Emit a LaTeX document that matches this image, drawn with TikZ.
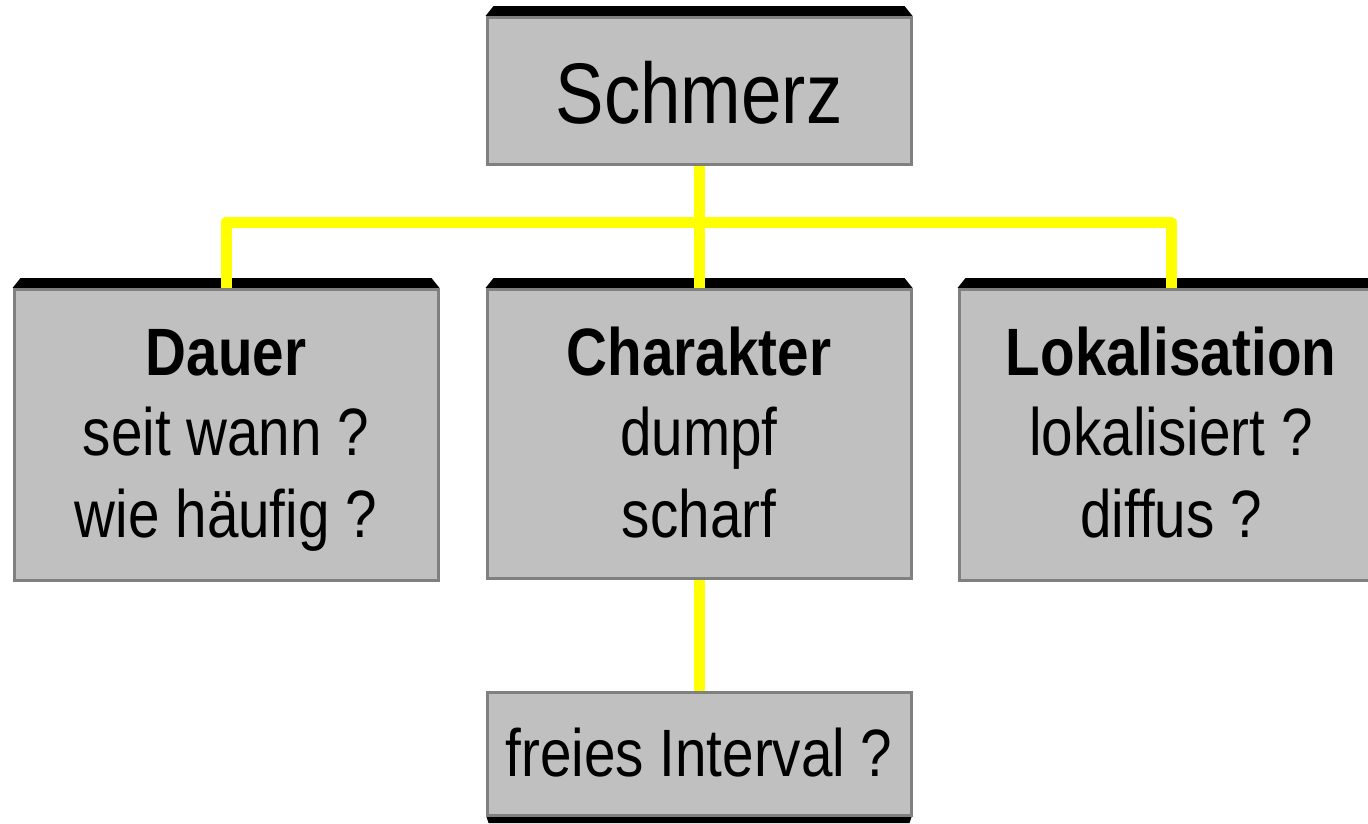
\documentclass[tikz,border=0pt]{standalone}
\usepackage{fontspec}
\setmainfont[FakeStretch=0.845]{Liberation Sans}
\usetikzlibrary{backgrounds}
\definecolor{boxfill}{HTML}{C0C0C0}
\definecolor{boxline}{HTML}{808080}
\definecolor{linkyellow}{HTML}{FFFF00}
\tikzset{
  box/.style={draw=boxline, fill=boxfill, line width=3pt, inner sep=0pt,
              minimum width=424pt},
  txt/.style={anchor=base, inner sep=0pt, font=\fontsize{67}{67}\selectfont},
  bigtxt/.style={anchor=base, inner sep=0pt, font=\fontsize{86}{86}\selectfont},
  link/.style={draw=linkyellow, line width=11pt, line join=round},
  bevel/.style={fill=black}
}
\begin{document}
\begin{tikzpicture}[x=1pt,y=1pt]
\useasboundingbox (0,0) rectangle (1368,-823);
\clip (0,0) rectangle (1368,-823);

% boxes
\node[box, minimum height=147pt] (schmerz) at (699,-91) {};
\node[box, minimum height=291pt] (dauer) at (226,-435) {};
\node[box, minimum height=289pt] (charakter) at (699,-434) {};
\node[box, minimum height=291pt] (lok) at (1171,-435) {};
\node[box, minimum height=123pt] (frei) at (699,-754) {};

% black bevels on top edges
\begin{scope}[on background layer]
  \foreach \b in {schmerz,dauer,charakter,lok}{
    \fill[bevel] (\b.north west) -- ++(8,10) -- ([xshift=-8pt,yshift=10pt]\b.north east)
                 -- (\b.north east) -- cycle;
  }
  \fill[bevel] ([xshift=1pt]frei.south west) -- ([xshift=-1pt]frei.south east)
               -- ++(-2,-6) -- ([xshift=3pt,yshift=-6pt]frei.south west) -- cycle;
\end{scope}

% connectors
\coordinate (bus) at (699,-222);
\draw[link] (dauer.north) -- (dauer.north |- bus) -- (lok.north |- bus) -- (lok.north);
\draw[link] (schmerz.south) -- (charakter.north);
\draw[link] (charakter.south) -- (frei.north);

% texts
\node[bigtxt] (tSchmerz) at (699,-123) {Schmerz};

\node[txt] (tDauer) at (226,-375) {\bfseries Dauer};
\node[txt] (tDauer1) at (226,-455) {seit wann ?};
\node[txt] (tDauer2) at (226,-537) {wie häufig ?};

\node[txt] (tChar) at (699,-375) {\bfseries Charakter};
\node[txt] (tChar1) at (699,-455) {dumpf};
\node[txt] (tChar2) at (699,-537) {scharf};

\node[txt] (tLok) at (1171,-375) {\bfseries Lokalisation};
\node[txt] (tLok1) at (1171,-455) {lokalisiert ?};
\node[txt] (tLok2) at (1171,-537) {diffus ?};

\node[txt] (tFrei) at (699,-776) {freies Interval ?};
\end{tikzpicture}
\end{document}
